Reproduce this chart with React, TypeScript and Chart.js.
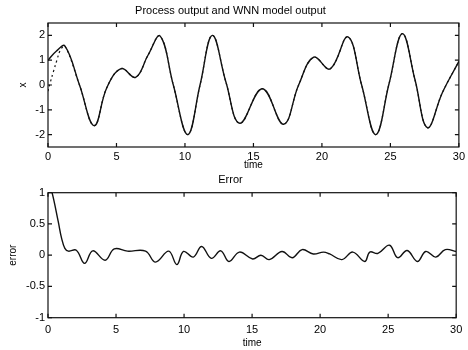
import React, { useEffect, useRef } from 'react';
import { Chart, registerables } from 'chart.js';
Chart.register(...registerables);

const FONT = "'Liberation Sans', Arial, Helvetica, sans-serif";

// Process output (solid)
const processT = [0, 0.6, 1.24, 2.3, 3.37, 4.3, 5.35, 6.4, 7.3, 8.19, 9.15, 10.2, 11.1, 12.0, 13.0, 14.0, 15.65, 17.2, 18.3, 19.4, 20.6, 21.9, 22.9, 23.93, 24.9, 25.87, 26.8, 27.7, 28.8, 30];
const processX = [1.0, 1.36, 1.57, 0.0, -1.64, -0.1, 0.66, 0.31, 1.2, 1.97, 0.0, -2.0, 0.0, 2.0, 0.1, -1.54, -0.15, -1.58, 0.0, 1.12, 0.65, 1.94, 0.0, -2.0, 0.05, 2.07, 0.2, -1.72, -0.3, 0.95];

// WNN model output (dotted) – differs from the process only at the start
const modelStartT = [0, 0.15, 0.4, 0.65, 0.9];
const modelStartX = [-0.25, 0.07, 0.55, 1.0, 1.4];

// Error
const errorT = [0, 0.3, 0.75, 1.0, 1.24, 1.5, 2.08, 2.69, 3.29, 4.2, 4.87, 5.84, 7.17, 7.9, 8.87, 9.47, 9.96, 10.68, 11.29, 12.0, 12.7, 13.3, 14.07, 15.04, 15.65, 16.26, 17.2, 17.95, 18.68, 19.5, 20.25, 20.7, 21.6, 22.4, 23.28, 23.65, 24.25, 25.1, 25.7, 26.4, 27.15, 27.76, 28.5, 29.2, 30];
const errorE = [1.2, 1.0, 0.54, 0.27, 0.11, 0.065, 0.08, -0.13, 0.07, -0.08, 0.1, 0.065, 0.065, -0.11, 0.065, -0.15, 0.06, -0.03, 0.14, -0.05, 0.07, -0.1, 0.05, -0.06, 0.0, -0.07, 0.06, -0.04, 0.09, 0.02, 0.05, 0.02, -0.07, 0.05, -0.1, 0.05, 0.03, 0.16, -0.04, 0.075, -0.1, 0.06, -0.03, 0.09, 0.06];

const timeTicks = [0, 5, 10, 15, 20, 25, 30];
const xTicks = [-2, -1, 0, 1, 2];
const errTicks = [-1, -0.5, 0, 0.5, 1];

const framePlugin = {
  id: 'matlabFrame',
  afterDraw(chart: any) {
    const { ctx, chartArea: a, scales } = chart;
    ctx.save();
    ctx.strokeStyle = '#111';
    ctx.lineWidth = 1.2;
    ctx.strokeRect(a.left, a.top, a.right - a.left, a.bottom - a.top);
    const L = 4;
    ctx.beginPath();
    scales.x.ticks.forEach((t: any) => {
      const px = scales.x.getPixelForValue(t.value);
      ctx.moveTo(px, a.bottom); ctx.lineTo(px, a.bottom - L);
      ctx.moveTo(px, a.top); ctx.lineTo(px, a.top + L);
    });
    scales.y.ticks.forEach((t: any) => {
      const py = scales.y.getPixelForValue(t.value);
      ctx.moveTo(a.left, py); ctx.lineTo(a.left + L, py);
      ctx.moveTo(a.right, py); ctx.lineTo(a.right - L, py);
    });
    ctx.stroke();
    ctx.restore();
  },
};

function pts(t: number[], v: number[]) {
  return t.map((x, i) => ({ x, y: v[i] }));
}

function makeOptions(o: any) {
  return {
    responsive: false,
    animation: false,
    events: [],
    layout: { padding: { left: 0, right: 7, top: 0, bottom: 0 } },
    plugins: {
      legend: { display: false },
      tooltip: { enabled: false },
      title: {
        display: true,
        text: o.title,
        color: '#000',
        font: { family: FONT, size: 11, weight: 'normal' },
        padding: o.titlePad,
      },
    },
    scales: {
      x: {
        type: 'linear',
        min: 0,
        max: 30,
        afterBuildTicks: (s: any) => { s.ticks = timeTicks.map((v) => ({ value: v })); },
        afterFit: (s: any) => { s.height = o.xHeight; },
        grid: { display: false, drawTicks: false },
        border: { display: false },
        ticks: { color: '#000', padding: o.xTickPad, maxRotation: 0, autoSkip: false, font: { family: FONT, size: 11 }, callback: (v: any) => String(v) },
        title: { display: true, text: 'time', color: '#000', font: { family: FONT, size: 10 }, padding: { top: 0, bottom: o.xTitlePad } },
      },
      y: {
        type: 'linear',
        min: o.yMin,
        max: o.yMax,
        afterBuildTicks: (s: any) => { s.ticks = o.yTicks.map((v: number) => ({ value: v })); },
        afterFit: (s: any) => { s.width = 48; },
        grid: { display: false, drawTicks: false },
        border: { display: false },
        ticks: { color: '#000', padding: 3, font: { family: FONT, size: 11 }, callback: (v: any) => String(v) },
        title: { display: true, text: o.yTitle, color: '#000', font: { family: FONT, size: 10 }, padding: { top: o.yTitlePad, bottom: 0 } },
      },
    },
  };
}

export default function App() {
  const topRef = useRef<HTMLCanvasElement>(null);
  const botRef = useRef<HTMLCanvasElement>(null);

  useEffect(() => {
    const processPts = pts(processT, processX);
    const modelPts = [
      ...pts(modelStartT, modelStartX),
      ...processPts.filter((p) => p.x >= 1.24),
    ];
    const top = new Chart(topRef.current as HTMLCanvasElement, {
      type: 'line',
      data: {
        datasets: [
          { data: processPts, borderColor: '#111', borderWidth: 1.4, pointRadius: 0, tension: 0.4, fill: false },
          { data: modelPts, borderColor: '#111', borderWidth: 1.2, borderDash: [2, 3], pointRadius: 0, tension: 0.4, fill: false },
        ],
      },
      options: makeOptions({
        title: 'Process output and WNN model output',
        titlePad: { top: 4, bottom: 5.8 },
        xHeight: 28,
        xTickPad: 3,
        xTitlePad: 4,
        yMin: -2.5,
        yMax: 2.5,
        yTicks: xTicks,
        yTitle: 'x',
        yTitlePad: 17,
      }) as any,
      plugins: [framePlugin],
    });
    const bot = new Chart(botRef.current as HTMLCanvasElement, {
      type: 'line',
      data: {
        datasets: [
          { data: pts(errorT, errorE), borderColor: '#111', borderWidth: 1.4, pointRadius: 0, tension: 0.4, fill: false },
        ],
      },
      options: makeOptions({
        title: 'Error',
        titlePad: { top: 8.4, bottom: 6.1 },
        xHeight: 32.3,
        xTickPad: 5.7,
        xTitlePad: 1,
        yMin: -1,
        yMax: 1,
        yTicks: errTicks,
        yTitle: 'error',
        yTitlePad: 7,
      }) as any,
      plugins: [framePlugin],
    });
    return () => { top.destroy(); bot.destroy(); };
  }, []);

  return (
    <div style={{ position: 'absolute', left: 0, top: 0, width: 468, height: 350, background: '#fff' }}>
      <canvas ref={topRef} width={468} height={175} style={{ position: 'absolute', left: 0, top: 0, width: 468, height: 175 }} />
      <canvas ref={botRef} width={468} height={185} style={{ position: 'absolute', left: 0, top: 165, width: 468, height: 185 }} />
    </div>
  );
}
